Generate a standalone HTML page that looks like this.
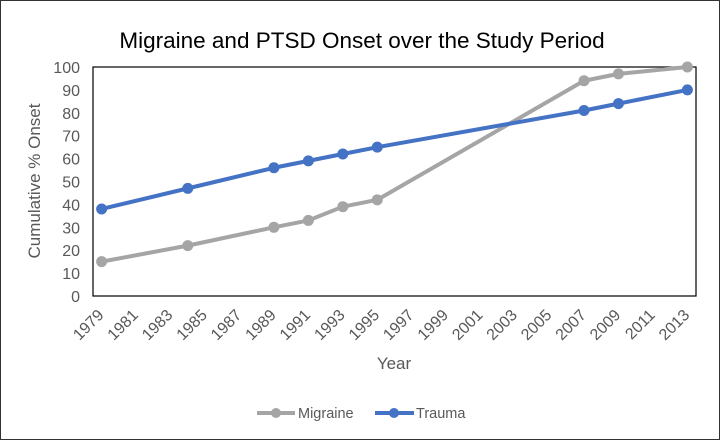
<!DOCTYPE html>
<html><head><meta charset="utf-8"><style>
html,body{margin:0;padding:0;background:#fff;}
svg{display:block;font-family:"Liberation Sans",Arial,sans-serif;}
</style></head><body>
<svg id="chart" width="720" height="441" viewBox="0 0 720 441">
<rect x="0.5" y="0.5" width="719" height="439" fill="#fff" stroke="#333"/>
<text x="362" y="48" text-anchor="middle" font-size="22.5" fill="#000">Migraine and PTSD Onset over the Study Period</text>
<rect x="93" y="67" width="603" height="229" fill="#fff" stroke="#000" stroke-width="1.2"/>
<g id="yticks"></g><g id="xticks"></g><g id="series"></g>
<text transform="translate(40,181) rotate(-90)" text-anchor="middle" font-size="17" fill="#595959">Cumulative % Onset</text>
<text x="394" y="369" text-anchor="middle" font-size="17" fill="#595959">Year</text>
<g>
<g><line x1="257" y1="413" x2="295" y2="413" stroke="#a5a5a5" stroke-width="4"/><circle cx="276" cy="413" r="5" fill="#a5a5a5"/><text x="298" y="418" font-size="14.5" fill="#595959">Migraine</text></g>
<g><line x1="375" y1="413" x2="414" y2="413" stroke="#4472c4" stroke-width="4"/><circle cx="394" cy="413" r="5" fill="#4472c4"/><text x="416" y="418" font-size="14.5" fill="#595959">Trauma</text></g>
</g>
</svg>
<script>
const years=[1979,1984,1989,1991,1993,1995,2007,2009,2013];
const migraine=[15,22,30,33,39,42,94,97,100];
const trauma=[38,47,56,59,62,65,81,84,90];
const yTicks=[0,10,20,30,40,50,60,70,80,90,100];
const xTicks=[1979,1981,1983,1985,1987,1989,1991,1993,1995,1997,1999,2001,2003,2005,2007,2009,2011,2013];
const NS="http://www.w3.org/2000/svg";
const L=93,R=696,T=67,B=296;
const xs=v=>L+(v-1978.5)/(2013.5-1978.5)*(R-L);
const ys=v=>B-v/100*(B-T);
function mk(t,a,p){const e=document.createElementNS(NS,t);for(const k in a)e.setAttribute(k,a[k]);p.appendChild(e);return e;}
const yg=document.getElementById('yticks');
yTicks.forEach(v=>{const t=mk('text',{x:L-13,y:ys(v)+6,'text-anchor':'end','font-size':16,fill:'#595959'},yg);t.textContent=v;

});
const xg=document.getElementById('xticks');
xTicks.forEach(v=>{const x=xs(v)+3,y=B+20;const t=mk('text',{x:x,y:y,'text-anchor':'end','font-size':16,fill:'#595959',transform:`rotate(-45 ${x} ${y})`},xg);t.textContent=v;

});
const sg=document.getElementById('series');
[[migraine,'#a5a5a5','migraine'],[trauma,'#4472c4','trauma']].forEach(([d,c,n])=>{
const g=mk('g',{},sg);


mk('polyline',{points:d.map((v,i)=>xs(years[i])+','+ys(v)).join(' '),fill:'none',stroke:c,'stroke-width':4,'stroke-linejoin':'round'},g);
d.forEach((v,i)=>{const p=mk('circle',{cx:xs(years[i]),cy:ys(v),r:5.5,fill:c},g);

});
});
</script>
</body></html>
